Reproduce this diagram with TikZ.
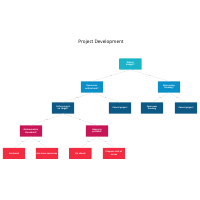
\documentclass[tikz,border=0pt]{standalone}
\usepackage{fontspec}
\setmainfont{Open Sans}
\usetikzlibrary{positioning}
\definecolor{cteal}{HTML}{1AB4C8}
\definecolor{cblue}{HTML}{0B8FC9}
\definecolor{cnavy}{HTML}{0D5985}
\definecolor{ccrimson}{HTML}{C71558}
\definecolor{cred}{HTML}{F22B40}
\definecolor{cgrey}{HTML}{9A9A9A}
\tikzset{
  every picture/.style={line width=0.4pt},
  box/.style={fill=#1, text=white, rounded corners=0.6pt, align=center,
    minimum width=1.12cm, minimum height=0.56cm, inner sep=1pt,
    font=\fontsize{3}{3.6}\selectfont\bfseries},
  box/.default=cblue,
  link/.style={draw=cgrey!35, line width=0.3pt},
  answer/.style={font=\fontsize{2.6}{3}\selectfont, text=cgrey, fill=white, inner sep=0.5pt},
  title/.style={font=\fontsize{6.6}{7.5}\selectfont},
}
\begin{document}
\begin{tikzpicture}
  \useasboundingbox (0,0) rectangle (10,10);
  \node[title] (head) at (5.05,7.9) {Project Development};
  % decision levels
  \node[box=cteal] (budget) at (6.52,6.8) {Within\\budget?};
  \node[box=cblue] (limit) at (4.6,5.65) {Resources\\within limit?};
  \node[box=cblue] (funding) at (8.45,5.65) {Alternative\\funding?};
  \node[box=cnavy] (target) at (3.15,4.6) {Is the project\\on target?};
  \node[box=cnavy] (cancelA) at (6.0,4.6) {Cancel project};
  \node[box=cnavy] (seek) at (7.6,4.6) {Seek new\\funding};
  \node[box=cnavy] (cancelB) at (9.3,4.6) {Cancel project};
  \node[box=ccrimson] (auth) at (1.55,3.45) {Authorisation\\threshold?};
  \node[box=ccrimson] (happy) at (4.85,3.45) {Happy to\\proceed?};
  % outcomes
  \node[box=cred] (goA) at (0.7,2.33) {Go ahead};
  \node[box=cred] (approval) at (2.35,2.33) {Get more resources};
  \node[box=cred] (goB) at (4.02,2.33) {Go ahead};
  \node[box=cred] (review) at (5.7,2.33) {Prepare a list of\\issues};
  % connectors
  \foreach \from/\to/\ans in {budget/limit/Yes, budget/funding/No,
      limit/target/Yes, limit/cancelA/No, funding/seek/Yes, funding/cancelB/No,
      target/auth/Yes, target/happy/No, auth/goA/Yes, auth/approval/No,
      happy/goB/Yes, happy/review/No}
    \draw[link] (\from.south) -- node[answer] {\ans} (\to.north);
\end{tikzpicture}
\end{document}
